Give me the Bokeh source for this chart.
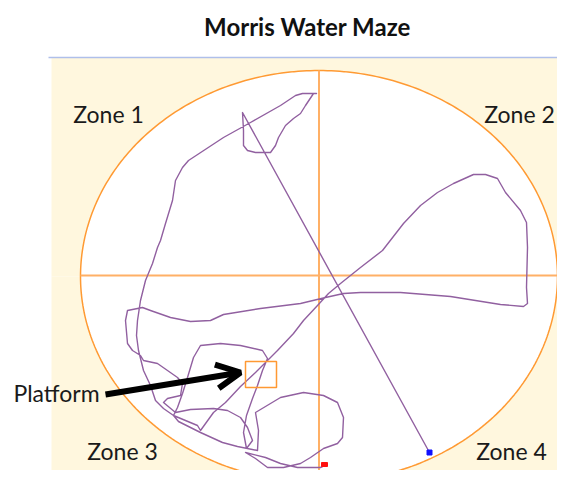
import numpy as np
from bokeh.plotting import figure
from bokeh.models import Range1d, Arrow, OpenHead, ColumnDataSource
from bokeh.core.properties import value
from bokeh.embed import file_html
from bokeh.resources import INLINE

# ---- data (trajectory, pixel-like units, y downward) ----
path_x = [429, 242, 243, 243, 247, 255, 270, 275, 278, 285, 293, 300, 305, 313, 316,
          302, 295, 280, 250, 223, 188, 182, 175, 172, 165, 160, 157, 152, 145, 140, 137, 136, 138, 143, 150, 155, 163, 173, 197, 200,
          213, 225, 240, 255, 267, 277, 293, 303, 317, 328, 340, 360, 382, 403, 420, 437, 453, 473, 485, 497, 505, 520, 526, 527, 526, 527, 523,
          500, 450, 400, 360, 343, 325, 300, 260, 223, 210, 190, 170, 150, 142, 127, 125, 127, 132, 140, 143, 157, 167, 177, 182, 180, 167, 163,
          175, 190, 213, 227, 240, 247, 252, 246, 243, 246, 252, 257, 262, 267, 262, 240, 220, 200, 193, 187, 182, 177, 173, 178, 200, 222, 237, 257,
          258, 255, 280, 303, 323, 337, 343, 342, 337, 323, 310, 300, 283, 267, 255, 245, 265, 280, 297, 320, 324]
path_y = [452, 112, 130, 145, 150, 152, 152, 145, 137, 125, 118, 113, 105, 93, 93,
          93, 95, 105, 122, 137, 160, 167, 180, 200, 223, 240, 247, 263, 280, 300, 320, 335, 350, 370, 385, 400, 408, 415, 425, 430,
          412, 402, 386, 372, 360, 350, 333, 320, 305, 293, 283, 267, 250, 223, 205, 192, 183, 174, 174, 178, 192, 210, 222, 247, 287, 303, 306,
          304, 296, 292, 292, 293, 297, 303, 308, 314, 320, 321, 317, 310, 307, 310, 320, 343, 350, 355, 360, 363, 370, 377, 383, 395, 398, 402,
          412, 409, 408, 410, 417, 427, 440, 448, 432, 415, 398, 385, 370, 358, 350, 345, 343, 345, 357, 377, 393, 407, 415, 421, 432, 442, 446, 450,
          430, 412, 397, 392, 395, 402, 417, 437, 443, 448, 457, 463, 467, 467, 458, 452, 457, 463, 467, 467, 465]
zone_labels = ["Zone 1", "Zone 2", "Zone 3", "Zone 4"]
platform_label = "Platform"
title_text = "Morris Water Maze"

FONT = "Lato"

p = figure(width=557, height=470, x_range=Range1d(0, 557), y_range=Range1d(470, 0),
           output_backend="svg", toolbar_location=None, min_border=0,
           x_axis_location=None, y_axis_location=None)
p.grid.visible = False
p.outline_line_color = None
p.background_fill_color = "white"
p.border_fill_color = "white"

# pool geometry
cx, cy, rx, ry = 318.5, 276.0, 238.5, 206.0
L, R, T, B = 51, 580, 57, 490

# cream panel as four corner pieces (rectangle quadrant minus quarter ellipse)
cxs, cys = [], []
for X, Y, av, ah in [(L, T, 1.5 * np.pi, np.pi), (R, T, 1.5 * np.pi, 2 * np.pi),
                     (R, B, 0.5 * np.pi, 0.0), (L, B, 0.5 * np.pi, np.pi)]:
    a = np.linspace(av, ah, 120)
    cxs.append([X, X, cx] + list(cx + rx * np.cos(a)))
    cys.append([cy, Y, Y] + list(cy + ry * np.sin(a)))
p.patches(xs=cxs, ys=cys, fill_color="#FFF7DE", line_color=None)
p.segment(x0=[48], y0=[T], x1=[R], y1=[T], line_color="#AFBFEA", line_width=1.5)

# pool outline and quadrant lines
t = np.linspace(0, 2 * np.pi, 361)
p.line(x=cx + rx * np.cos(t), y=cy + ry * np.sin(t), line_color="#FF9A33", line_width=1.5)
p.segment(x0=[80, 318.5], y0=[275, 70], x1=[557, 318.5], y1=[275, 482],
          line_color="#FFB066", line_width=2)

# trajectory
p.line(x=path_x, y=path_y, line_color="#9160A0", line_width=1.4, line_join="round")

# platform
p.quad(left=[245], right=[276], top=[361], bottom=[387], fill_color=None,
       line_color="#FF9933", line_width=1.5)

# start / end markers
p.scatter(x=[path_x[0]], y=[path_y[0]], marker="square", size=5, color="#1010FF")
p.rect(x=[path_x[-1]], y=[path_y[-1] - 1], width=6, height=4, color="#FF1010")

# arrow
p.add_layout(Arrow(end=OpenHead(size=24, line_width=6, line_color="black"),
                   x_start=105, y_start=394, x_end=240, y_end=372,
                   line_width=6, line_color="black"))

# texts
zsrc = ColumnDataSource(dict(x=[108, 519, 122, 511], y=[113, 113, 450, 450], t=zone_labels))
p.text(x="x", y="y", text="t", source=zsrc, text_font=value(FONT), text_font_size="23px",
       text_align="center", text_baseline="middle", text_color="#1A1A1A")
p.text(x=[56], y=[392], text=[platform_label], text_font=value(FONT), text_font_size="23px",
       text_align="center", text_baseline="middle", text_color="#1A1A1A")
p.text(x=[307], y=[26], text=[title_text], text_font=value(FONT), text_font_size="24px",
       text_font_style="bold", text_align="center", text_baseline="middle", text_color="#111111")

open("out.html", "w").write(file_html(p, INLINE))
